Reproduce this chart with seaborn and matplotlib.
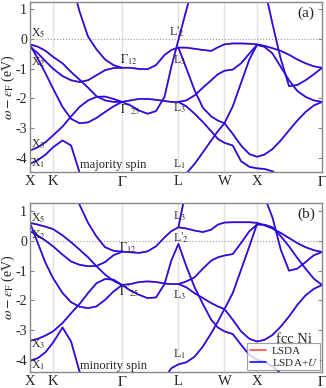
import numpy as np
import pandas as pd
import matplotlib
matplotlib.use("Agg")
import matplotlib.pyplot as plt
from matplotlib.lines import Line2D
import seaborn as sns

# k-path (units of 2pi/a) and symmetry points
k_pts = [0.000, 0.120, 0.239, 0.354, 0.500, 0.631, 0.761, 0.892, 1.022, 1.153,
         1.283, 1.414, 1.544, 1.675, 1.805, 1.936, 2.066, 2.171, 2.280, 2.402,
         2.529, 2.656, 2.784, 2.886, 2.987, 3.115, 3.242, 3.370, 3.487, 3.599,
         3.726, 3.852, 3.979, 4.106, 4.233, 4.360, 4.487]
sym_k = [0.0, 0.354, 1.414, 2.280, 2.987, 3.487, 4.487]
sym_lab = ["X", "K", r"$\Gamma$", "L", "W", "X", r"$\Gamma$"]

# bands: (first k index, energies in eV)
maj_A = (5, [2.00, 0.93, 0.08, -0.35, -0.69, -0.88, -0.97, -0.97, -1.01, -1.02, -0.88,
             -0.54, -0.37, -0.29, -0.29, -0.33, -0.37, -0.40, -0.28, -0.18, -0.15, -0.15,
             -0.16, -0.18, -0.23, -0.31, -0.40, -0.53, -0.69, -0.82, -0.92, -0.97])
maj_B = (0, [-0.26, -0.48, -0.75, -1.00, -1.25, -1.39, -1.45, -1.39, -1.22, -1.05, -0.98, -0.97])
maj_C = (0, [-0.18, -0.26, -0.40, -0.60, -0.82, -1.11, -1.37, -1.64, -1.93, -2.07, -2.12, -2.12,
             -2.07, -2.02, -2.02, -2.05, -2.09, -2.12, -2.12,
             -2.07, -1.90, -1.64, -1.39, -1.19, -1.07,
             -1.03, -0.82, -0.49, -0.20,
             -0.26, -0.49, -0.94, -1.39, -1.75, -1.95, -2.07, -2.12])
maj_D = (0, [-0.20, -0.66, -1.16, -1.67, -2.29, -2.69, -2.84, -2.81, -2.66, -2.46, -2.27, -2.12,
             -2.24, -2.41, -2.52, -2.43, -1.95, -0.94, -0.03, 0.98, 2.00])
maj_E = (0, [-3.76, -3.65, -3.48, -3.25, -2.95, -2.61, -2.29, -2.07, -1.95, -1.94, -2.02, -2.12])
maj_F = (0, [-4.21, -4.08, -3.90, -3.65, -3.42, -3.59, -4.50, -5.46])
maj_G = (18, [-0.29, -0.99, -1.73, -2.32, -2.61, -2.75, -2.84, -3.20, -3.59, -3.88, -3.97,
              -3.90, -3.71, -3.42, -3.08, -2.75, -2.46, -2.24, -2.12])
maj_H = (18, [-2.12, -2.27, -2.52, -2.80, -3.11, -3.37, -3.50, -3.59, -4.12, -4.31, -4.36,
              -4.38, -4.46, -4.67])
maj_I = (18, [-4.65, -4.53, -4.21, -3.82, -3.42, -3.11, -2.84, -2.27, -1.48, -0.69, -0.20])
maj_J = (29, [1.77, 0.50, -0.67, -1.59, -1.55, -1.39, -1.19, -0.97])

min_A = (5, [2.12, 1.22, 0.61, 0.15, -0.21, -0.33, -0.36, -0.38, -0.40, -0.35, -0.18, 0.12,
             0.33, 0.46, 0.42, 0.35, 0.30, 0.38, 0.55, 0.62, 0.63, 0.63, 0.63, 0.61,
             0.53, 0.42, 0.27, 0.10, -0.07, -0.21, -0.31, -0.37])
min_B = (0, [0.33, 0.18, 0.01, -0.18, -0.46, -0.69, -0.80, -0.85, -0.84, -0.71, -0.48, -0.36])
min_C = (0, [0.61, 0.55, 0.48, 0.40, 0.19, -0.04, -0.29, -0.55, -0.85, -1.13, -1.34, -1.48,
             -1.45, -1.38, -1.36, -1.38, -1.43, -1.45, -1.45,
             -1.36, -1.22, -0.93, -0.66, -0.55, -0.49,
             -0.44, -0.07, 0.33, 0.55,
             0.55, 0.46, 0.16, -0.18, -0.57, -0.93, -1.27, -1.48])
min_D = (0, [0.61, -0.07, -0.74, -1.25, -1.75, -2.06, -2.21, -2.26, -2.20, -1.98, -1.70, -1.48,
             -1.67, -1.81, -1.92, -1.90, -1.45, -0.66, -0.10,
             -0.85, -1.56, -2.12, -2.65, -2.91, -3.04, -3.13, -3.49, -3.83, -4.00, -4.06,
             -4.22, -4.45, -4.84])
min_E = (0, [-3.36, -3.29, -3.18, -3.04, -2.76, -2.43, -2.12, -1.75, -1.42, -1.28, -1.30, -1.48])
min_F = (0, [-4.03, -3.94, -3.74, -3.42, -2.91, -3.38, -4.39, -5.29])
min_G = (18, [-1.45, -1.56, -1.76, -1.92, -2.09, -2.20, -2.29, -2.65, -3.04, -3.29, -3.38,
              -3.33, -3.16, -2.88, -2.54, -2.15, -1.83, -1.61, -1.48])
min_I = (16, [-4.62, -4.28, -4.15, -4.08, -3.89, -3.55, -3.10, -2.71, -2.29, -1.75, -0.97,
              -0.18, 0.57])
min_J = (29, [1.51, 0.78, -0.29, -1.00, -0.93, -0.71, -0.48, -0.37])
min_K = (18, [0.46, 1.78])

majority = [maj_A, maj_B, maj_C, maj_D, maj_E, maj_F, maj_G, maj_H, maj_I, maj_J]
minority = [min_A, min_B, min_C, min_D, min_E, min_F, min_G, min_I, min_J, min_K]

sns.set_style("ticks")
plt.rcParams["font.family"] = ["Liberation Serif", "DejaVu Serif"]
plt.rcParams["mathtext.fontset"] = "stix"
plt.rcParams["axes.unicode_minus"] = False


def to_frame(bands):
    rows = []
    for i, (start, vals) in enumerate(bands):
        for j, e in enumerate(vals):
            rows.append({"band": i, "k": k_pts[start + j], "E": e})
    return pd.DataFrame(rows)


def panel(ax, bands, ylim, tag, spin, labels):
    df = to_frame(bands)
    for x in sym_k[1:-1]:
        ax.axvline(x, color="#e2e2e2", lw=1.0, zorder=0)
    ax.axhline(0, color="#999999", lw=0.8, ls=":", zorder=0)
    sns.lineplot(data=df, x="k", y="E", units="band", estimator=None, sort=False,
                 color="#ff4a4a", lw=1.3, ax=ax, legend=False)
    sns.lineplot(data=df, x="k", y="E", units="band", estimator=None, sort=False,
                 color="#1010ff", lw=1.1, ax=ax, legend=False)
    ax.set_xlim(0, 4.487)
    ax.set_ylim(*ylim)
    ax.set_xticks(sym_k)
    ax.set_xticklabels(sym_lab, fontsize=10.5)
    ax.set_yticks([-4, -3, -2, -1, 0, 1])
    ax.tick_params(axis="y", direction="in", right=True, length=3, labelsize=10,
                   color="#888888", pad=2)
    ax.tick_params(axis="x", length=0, pad=2)
    for s in ax.spines.values():
        s.set_color("#888888")
        s.set_linewidth(1.0)
    ax.set_xlabel("")
    ax.set_ylabel(r"$\omega - \epsilon_\mathrm{F}$ (eV)", fontsize=10)
    ax.yaxis.set_label_coords(-0.045, 0.5)
    ax.text(0.975, 0.935, tag, transform=ax.transAxes, ha="right", va="center", fontsize=11)
    ax.text(1.283, ylim[0] + 0.22, spin, ha="center", va="center", fontsize=9)
    for kx, ey, s in labels:
        ax.text(kx, ey, s, ha="left", va="center", fontsize=8.5)


fig = plt.figure(figsize=(3.26, 3.88), dpi=100)
ax_a = fig.add_axes([0.092, 0.557, 0.896, 0.438])
ax_b = fig.add_axes([0.092, 0.041, 0.896, 0.436])

labels_a = [(0.02, 0.19, r"X$_5$"), (0.02, -0.77, r"X$_2$"), (0.02, -3.56, r"X$_3$"),
            (0.02, -4.18, r"X$_1$"), (1.385, -0.69, r"$\Gamma_{12}$"),
            (1.385, -2.35, r"$\Gamma'_{25}$"), (2.14, 0.25, r"L$'_2$"),
            (2.20, -0.71, r"L$_3$"), (2.20, -2.35, r"L$_3$"), (2.20, -4.21, r"L$_1$")]
labels_b = [(0.02, 0.78, r"X$_5$"), (0.02, 0.19, r"X$_2$"), (0.02, -3.49, r"X$_3$"),
            (0.02, -4.17, r"X$_1$"), (1.37, -0.24, r"$\Gamma_{12}$"),
            (1.37, -1.70, r"$\Gamma'_{25}$"), (2.19, 0.83, r"L$_3$"),
            (2.19, 0.12, r"L$'_2$"), (2.19, -1.81, r"L$_3$"), (2.19, -3.81, r"L$_1$")]

panel(ax_a, majority, (-4.48, 1.25), "(a)", "majority spin", labels_a)
panel(ax_b, minority, (-4.41, 1.28), "(b)", "minority spin", labels_b)

ax_b.text(4.056, -3.30, "fcc Ni", ha="center", va="center", fontsize=10.5)
handles = [Line2D([], [], color="#ff4a4a", lw=1.2, label="LSDA"),
           Line2D([], [], color="#1010ff", lw=1.2, label=r"LSDA+$U$")]
leg = ax_b.legend(handles=handles, loc="lower right", fontsize=8, frameon=True,
                  fancybox=False, borderpad=0.25, handlelength=1.5, handletextpad=0.5,
                  labelspacing=0.1, borderaxespad=0.15)
leg.get_frame().set_edgecolor("#888888")
leg.get_frame().set_linewidth(0.8)

fig.savefig("out.png", dpi=100)
